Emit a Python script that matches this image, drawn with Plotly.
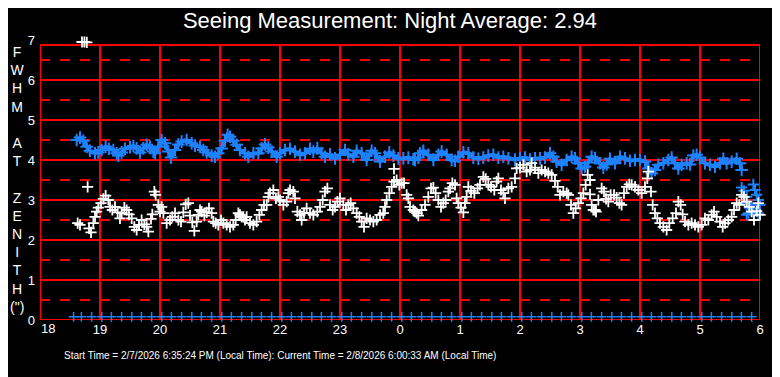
import plotly.graph_objects as go

# ---------------- data (hours after 18:00 expressed as 18..30) ----------------
tick_vals = [18, 19, 20, 21, 22, 23, 24, 25, 26, 27, 28, 29, 30]
tick_text = ["18", "19", "20", "21", "22", "23", "0", "1", "2", "3", "4", "5", "6"]
y_tick_vals = [0, 1, 2, 3, 4, 5, 6, 7]

fwhm_time = [18.611, 18.667, 18.722, 18.778, 18.833, 18.917, 18.972, 19.028, 19.094, 19.15,
             19.222, 19.278, 19.306, 19.361, 19.417, 19.5, 19.556, 19.611, 19.667, 19.722,
             19.778, 19.833, 19.889, 19.917, 19.972, 20.028, 20.083, 20.139, 20.183, 20.25,
             20.306, 20.361, 20.444, 20.528, 20.583, 20.667, 20.722, 20.778, 20.861, 20.917,
             20.972, 21.028, 21.083, 21.128, 21.167, 21.222, 21.278, 21.333, 21.417, 21.472,
             21.556, 21.639, 21.694, 21.75, 21.806, 21.861, 21.944, 22.0, 22.083, 22.167,
             22.25, 22.333, 22.417, 22.5, 22.556, 22.622, 22.694, 22.75, 22.833, 22.917,
             23.0, 23.083, 23.139, 23.222, 23.278, 23.361, 23.444, 23.528, 23.583, 23.667,
             23.75, 23.822, 23.889, 23.972, 24.056, 24.139, 24.222, 24.25, 24.306, 24.333,
             24.389, 24.472, 24.556, 24.639, 24.694, 24.778, 24.861, 24.917, 24.972, 25.056,
             25.139, 25.222, 25.306, 25.389, 25.472, 25.556, 25.639, 25.722, 25.806, 25.917,
             26.0, 26.083, 26.167, 26.25, 26.333, 26.417, 26.5, 26.556, 26.611, 26.694,
             26.778, 26.861, 26.917, 26.972, 27.028, 27.083, 27.139, 27.194, 27.25, 27.333,
             27.389, 27.444, 27.5, 27.583, 27.667, 27.75, 27.833, 27.917, 28.0, 28.083,
             28.139, 28.194, 28.25, 28.306, 28.389, 28.472, 28.528, 28.583, 28.639, 28.694,
             28.778, 28.833, 28.889, 28.944, 29.0, 29.083, 29.167, 29.25, 29.333, 29.389,
             29.444, 29.528, 29.611, 29.667, 29.694]
fwhm_value = [4.50, 4.56, 4.48, 4.33, 4.23, 4.17, 4.19, 4.25, 4.33, 4.28,
              4.25, 4.17, 4.11, 4.19, 4.28, 4.32, 4.35, 4.29, 4.19, 4.29,
              4.38, 4.33, 4.21, 4.17, 4.33, 4.50, 4.42, 4.21, 4.06, 4.25,
              4.39, 4.46, 4.50, 4.42, 4.36, 4.33, 4.25, 4.19, 4.11, 4.08,
              4.17, 4.29, 4.48, 4.63, 4.58, 4.48, 4.38, 4.25, 4.17, 4.08,
              4.17, 4.17, 4.29, 4.39, 4.31, 4.21, 4.08, 4.17, 4.25, 4.28,
              4.21, 4.13, 4.17, 4.28, 4.21, 4.29, 4.17, 4.08, 4.14, 4.04,
              4.13, 4.25, 4.14, 4.08, 4.23, 4.17, 4.00, 4.23, 4.17, 3.96,
              4.08, 4.19, 4.11, 4.04, 4.04, 4.06, 4.02, 4.00, 4.06, 4.17,
              4.23, 4.13, 4.00, 4.13, 4.21, 4.13, 4.00, 3.98, 4.08, 4.19,
              4.17, 4.06, 4.03, 4.06, 4.11, 4.13, 4.06, 4.08, 4.04, 4.01,
              4.04, 4.06, 4.01, 4.04, 4.04, 4.06, 4.17, 4.08, 3.96, 3.88,
              4.00, 4.08, 4.04, 3.92, 3.79, 3.83, 3.94, 4.08, 4.05, 3.92,
              3.81, 3.89, 4.03, 3.92, 4.08, 4.04, 3.98, 4.00, 4.00, 3.96,
              3.79, 3.67, 3.75, 3.88, 3.92, 4.00, 4.06, 3.92, 3.79, 3.88,
              3.92, 3.89, 4.11, 4.13, 4.06, 3.92, 3.88, 3.83, 3.92, 4.03,
              3.92, 3.96, 4.03, 3.92, 3.75]

fwhm_end_time = [29.694, 29.733, 29.75, 29.778, 29.778, 29.806, 29.822, 29.861, 29.889,
                 29.889, 29.917, 29.944, 29.972, 29.972, 30.0]
fwhm_end_value = [3.31, 3.23, 2.92, 3.08, 2.63, 2.67, 2.88, 2.79, 3.39,
                  2.71, 3.25, 3.13, 3.00, 2.67, 2.88]

zenith_time = [18.628, 18.667, 18.70, 18.74, 18.78, 18.794, 18.817, 18.85, 18.889, 18.917,
               18.944, 18.972, 19.017, 19.056, 19.094, 19.139, 19.167, 19.206, 19.25, 19.294,
               19.333, 19.361, 19.406, 19.444, 19.483, 19.528, 19.572, 19.611, 19.65, 19.694,
               19.739, 19.778, 19.806, 19.85, 19.872, 19.906, 19.928, 19.972, 20.0, 20.028,
               20.056, 20.111, 20.167, 20.206, 20.25, 20.306, 20.35, 20.389, 20.428, 20.472,
               20.5, 20.539, 20.572, 20.611, 20.639, 20.667, 20.694, 20.739, 20.778, 20.817,
               20.861, 20.889, 20.928, 20.972, 21.017, 21.056, 21.111, 21.167, 21.222, 21.261,
               21.306, 21.333, 21.361, 21.389, 21.417, 21.444, 21.5, 21.556, 21.611, 21.656,
               21.694, 21.733, 21.778, 21.806, 21.833, 21.889, 21.933, 21.972, 22.0, 22.056,
               22.111, 22.139, 22.167, 22.222, 22.25, 22.289, 22.333, 22.361, 22.4, 22.444,
               22.5, 22.556, 22.622, 22.667, 22.711, 22.75, 22.789, 22.833, 22.878, 22.917,
               22.956, 23.0, 23.056, 23.1, 23.139, 23.178, 23.222, 23.278, 23.322, 23.361,
               23.4, 23.444, 23.5, 23.556, 23.611, 23.667, 23.722, 23.75, 23.778, 23.822,
               23.861, 23.9, 23.9, 23.944, 23.989, 24.028, 24.067, 24.111, 24.139, 24.167,
               24.222, 24.25, 24.278, 24.306, 24.361, 24.417, 24.472, 24.517, 24.556, 24.594,
               24.639, 24.683, 24.722, 24.761, 24.806, 24.833, 24.872, 24.917, 24.944, 24.972,
               25.017, 25.056, 25.083, 25.111, 25.139, 25.183, 25.239, 25.294, 25.333, 25.389,
               25.428, 25.472, 25.517, 25.572, 25.611, 25.639, 25.683, 25.722, 25.75, 25.806,
               25.861, 25.917, 25.944, 26.0, 26.056, 26.111, 26.167, 26.194, 26.25, 26.306,
               26.361, 26.417, 26.472, 26.528, 26.583, 26.628, 26.667, 26.722, 26.778, 26.806,
               26.85, 26.889, 26.928, 26.972, 27.017, 27.056, 27.094, 27.128, 27.167, 27.167,
               27.194, 27.222, 27.25, 27.267, 27.306, 27.361, 27.4, 27.433, 27.472, 27.511,
               27.567, 27.611, 27.656, 27.694, 27.733, 27.778, 27.822, 27.861, 27.917, 27.972,
               28.028, 28.083, 28.122, 28.139, 28.183, 28.211, 28.25, 28.289, 28.333, 28.389,
               28.444, 28.489, 28.544, 28.6, 28.639, 28.678, 28.711, 28.75, 28.806, 28.861,
               28.917, 28.972, 29.028, 29.083, 29.139, 29.194, 29.233, 29.278, 29.333, 29.378,
               29.417, 29.472, 29.528, 29.567, 29.611, 29.656, 29.694, 29.733, 29.778, 29.822,
               29.861, 29.9, 29.944, 29.972, 30.0]
zenith_value = [2.42, 2.38, 6.95, 6.95, 6.94, 3.33, 2.29, 2.19, 2.42, 2.58,
                2.71, 2.81, 2.92, 3.03, 3.11, 3.00, 2.83, 2.75, 2.83, 2.69,
                2.54, 2.67, 2.81, 2.75, 2.64, 2.54, 2.33, 2.25, 2.38, 2.50,
                2.39, 2.33, 2.21, 2.53, 2.64, 3.21, 3.13, 2.88, 2.71, 2.83,
                2.67, 2.42, 2.50, 2.58, 2.67, 2.50, 2.46, 2.69, 2.89, 2.92,
                2.61, 2.44, 2.23, 2.46, 2.63, 2.75, 2.71, 2.61, 2.69, 2.79,
                2.67, 2.46, 2.42, 2.38, 2.50, 2.42, 2.38, 2.33, 2.38, 2.50,
                2.67, 2.63, 2.58, 2.58, 2.50, 2.58, 2.42, 2.38, 2.46, 2.63,
                2.75, 2.88, 2.88, 3.08, 3.17, 3.25, 3.04, 3.08, 3.00, 2.88,
                2.96, 3.17, 3.25, 3.21, 3.04, 2.71, 2.63, 2.50, 2.67, 2.79,
                2.67, 2.63, 2.71, 2.83, 3.00, 3.21, 3.29, 2.88, 2.75, 2.83,
                2.96, 3.04, 2.88, 2.75, 2.88, 2.92, 2.79, 2.67, 2.58, 2.46,
                2.33, 2.54, 2.50, 2.46, 2.50, 2.63, 2.67, 2.83, 3.00, 3.17,
                3.33, 3.46, 3.78, 3.50, 3.38, 3.42, 3.42, 3.13, 3.04, 2.83,
                2.75, 2.71, 2.67, 2.61, 2.75, 2.88, 3.08, 3.29, 3.31, 3.17,
                3.00, 2.83, 2.92, 3.00, 3.21, 3.29, 3.42, 3.38, 3.04, 2.92,
                2.81, 2.69, 2.92, 3.08, 3.33, 3.23, 3.17, 3.29, 3.38, 3.58,
                3.53, 3.38, 3.33, 3.25, 3.46, 3.54, 3.25, 3.17, 3.04, 3.29,
                3.33, 3.54, 3.79, 3.81, 3.88, 3.71, 3.75, 3.92, 3.81, 3.67,
                3.75, 3.71, 3.67, 3.63, 3.48, 3.33, 3.13, 3.21, 3.17, 3.13,
                2.88, 2.67, 2.79, 2.92, 3.04, 3.17, 3.38, 3.63, 3.50, 3.14,
                2.88, 2.75, 2.75, 2.71, 3.00, 3.29, 3.21, 3.03, 2.96, 3.13,
                3.13, 3.06, 2.92, 2.88, 3.17, 3.33, 3.39, 3.38, 3.33, 3.25,
                3.17, 3.33, 3.54, 3.71, 3.21, 2.88, 2.67, 2.54, 2.42, 2.33,
                2.25, 2.42, 2.54, 2.67, 2.96, 2.88, 2.64, 2.46, 2.38, 2.42,
                2.38, 2.33, 2.38, 2.54, 2.50, 2.63, 2.71, 2.58, 2.46, 2.33,
                2.42, 2.50, 2.58, 2.75, 2.92, 2.88, 3.13, 3.08, 2.96, 2.83,
                2.71, 2.50, 2.72, 2.92, 2.63]

baseline_time = [18.56, 18.69, 18.86,
                 19.03, 19.19, 19.36, 19.53, 19.69, 19.86,
                 20.03, 20.19, 20.36, 20.53, 20.69, 20.86,
                 21.03, 21.19, 21.36, 21.53, 21.69, 21.86,
                 22.03, 22.19, 22.36, 22.53, 22.69, 22.86,
                 23.03, 23.19, 23.36, 23.53, 23.69, 23.86,
                 24.03, 24.19, 24.36, 24.53, 24.69, 24.86,
                 25.03, 25.19, 25.36, 25.53, 25.69, 25.86,
                 26.03, 26.19, 26.36, 26.53, 26.69, 26.86,
                 27.03, 27.19, 27.36, 27.53, 27.69, 27.86,
                 28.03, 28.19, 28.36, 28.53, 28.69, 28.86,
                 29.03, 29.19, 29.36, 29.53, 29.69, 29.86]
baseline_value = [0.08] * len(baseline_time)

solid_levels = [1, 2, 3, 4, 5, 6]
dashed_levels = [0.5, 1.5, 2.5, 3.5, 4.5, 5.5, 6.5]
frame_top = 6.875

title_text = "Seeing Measurement: Night Average: 2.94"
footer_text = ("Start Time = 2/7/2026 6:35:24 PM (Local Time): "
               "Current Time = 2/8/2026 6:00:33 AM (Local Time)")
ylabel_lines = ["F", "W", "H", "M", "\u00a0", "A", "T", "\u00a0",
                "Z", "E", "N", "I", "T", "H", "(\")"]

# ---------------- styles ----------------
BLUE = "#1E82FF"
RED = "#FF0000"
FONT = "Arial, Liberation Sans, sans-serif"
OFF = 8  # page offset of the figure inside the browser window

W, H = 780, 377
PL, PR, PT, PB = 40 - OFF, 760 - OFF, 40 - OFF, 320 - OFF  # plot box in figure px

fig = go.Figure()

fig.add_trace(go.Scatter(
    x=fwhm_time, y=fwhm_value, mode="lines+markers",
    line=dict(color=BLUE, width=4),
    marker=dict(symbol="cross-thin", size=9, line=dict(color=BLUE, width=2)),
    hoverinfo="skip", showlegend=False))
fig.add_trace(go.Scatter(
    x=fwhm_end_time, y=fwhm_end_value, mode="markers",
    marker=dict(symbol="cross-thin", size=8, line=dict(color=BLUE, width=2)),
    hoverinfo="skip", showlegend=False, cliponaxis=False))
fig.add_trace(go.Scatter(
    x=zenith_time, y=zenith_value, mode="markers",
    marker=dict(symbol="cross-thin", size=8, line=dict(color="white", width=1.8)),
    hoverinfo="skip", showlegend=False, cliponaxis=False))
fig.add_trace(go.Scatter(
    x=baseline_time, y=baseline_value, mode="markers",
    marker=dict(symbol="cross-thin", size=7, line=dict(color=BLUE, width=1.5)),
    hoverinfo="skip", showlegend=False, cliponaxis=False))

shapes = []
for lv in dashed_levels:
    shapes.append(dict(type="line", xref="x", yref="y", x0=tick_vals[0], x1=tick_vals[-1],
                       y0=lv, y1=lv, layer="below",
                       line=dict(color=RED, width=2, dash="10px,10px")))
for lv in solid_levels + [0, frame_top]:
    shapes.append(dict(type="line", xref="x", yref="y", x0=tick_vals[0], x1=tick_vals[-1],
                       y0=lv, y1=lv, layer="below", line=dict(color=RED, width=2)))
for tv in tick_vals:
    shapes.append(dict(type="line", xref="x", yref="y", x0=tv, x1=tv,
                       y0=0, y1=frame_top, layer="below", line=dict(color=RED, width=2)))

plot_w = PR - PL
plot_h = PB - PT

# first x label sits right of its tick (as in the reference), the rest are centred
shown_tick_text = [""] + tick_text[1:]

fig.update_layout(
    width=W, height=H,
    paper_bgcolor="black", plot_bgcolor="black",
    margin=dict(l=PL, r=W - PR, t=PT, b=H - PB, autoexpand=False),
    font=dict(family=FONT, color="white", size=14),
    title=dict(text=title_text, x=(390 - OFF) / W, xanchor="center",
               y=1 - (20 - OFF) / H, yanchor="middle",
               font=dict(family=FONT, size=22, color="white")),
    shapes=shapes,
    xaxis=dict(range=[tick_vals[0], tick_vals[-1]], tickvals=tick_vals,
               ticktext=shown_tick_text,
               showgrid=False, zeroline=False, showline=False, ticks="", automargin=False,
               tickfont=dict(family=FONT, size=13, color="white")),
    yaxis=dict(range=[0, 7], tickvals=y_tick_vals, showgrid=False, zeroline=False,
               showline=False, ticks="", ticklabelstandoff=4, automargin=False,
               tickfont=dict(family=FONT, size=13, color="white")),
    annotations=[
        dict(text=tick_text[0], xref="x", yref="paper", x=tick_vals[0],
             y=(320 - 329) / plot_h, xanchor="left", yanchor="middle", xshift=-1,
             showarrow=False, font=dict(family=FONT, size=13, color="white")),
        dict(text="<br>".join(ylabel_lines), xref="paper", yref="paper",
             x=(0 - PL) / plot_w, y=(320 - 179.5) / plot_h, xanchor="left",
             yanchor="middle", showarrow=False, align="center",
             font=dict(family=FONT, size=14, color="white")),
        dict(text=footer_text, xref="paper", yref="paper",
             x=(62 - 40) / plot_w, y=(320 - 355) / plot_h, xanchor="left", yanchor="middle",
             showarrow=False, font=dict(family=FONT, size=10, color="white")),
    ],
)

fig.write_html("out.html")
